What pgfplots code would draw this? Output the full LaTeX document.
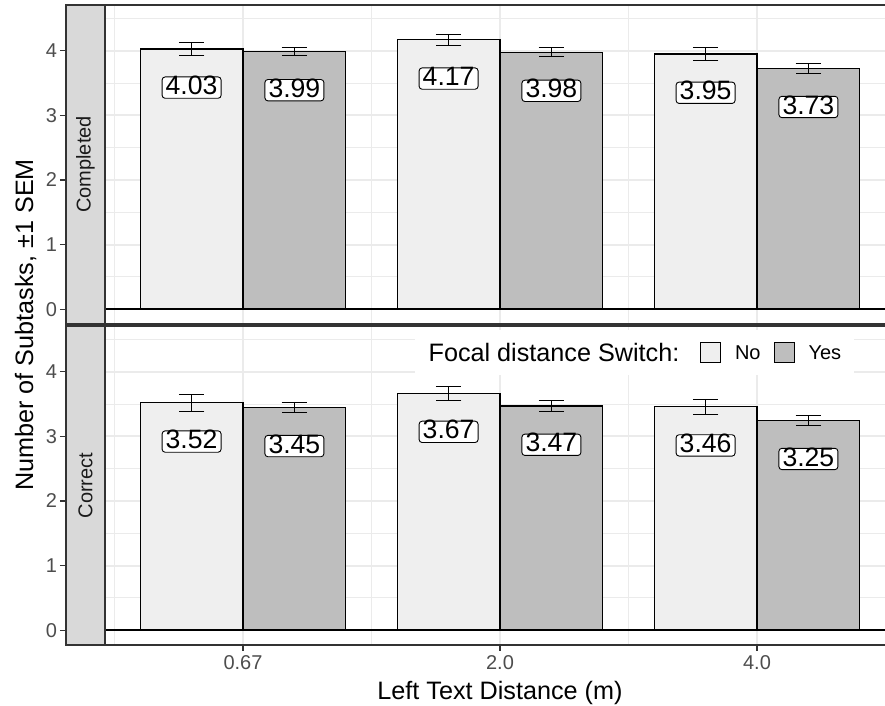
\documentclass[border=0pt]{standalone}
\usepackage{pgfplots}
\usepackage{pgfplotstable}
\pgfplotsset{compat=1.18}
\usepackage{fontspec}
\setmainfont{Liberation Sans}

\definecolor{noC}{HTML}{EFEFEF}
\definecolor{yesC}{HTML}{BEBEBE}
\definecolor{stripC}{HTML}{D9D9D9}
\definecolor{frameC}{HTML}{333333}
\definecolor{gridC}{HTML}{EBEBEB}
\definecolor{tickC}{HTML}{4D4D4D}
\definecolor{stripT}{HTML}{1A1A1A}

% x: category index (1 = 0.67 m, 2 = 2.0 m, 3 = 4.0 m) shifted by -0.2 (No) / +0.2 (Yes)
\pgfplotstableread{
x   y    e
0.8 4.03 0.100
1.8 4.17 0.090
2.8 3.95 0.100
}\compNo
\pgfplotstableread{
x   y    e
1.2 3.99 0.063
2.2 3.98 0.065
3.2 3.73 0.075
}\compYes
\pgfplotstableread{
x   y    e
0.8 3.52 0.130
1.8 3.67 0.110
2.8 3.46 0.115
}\corrNo
\pgfplotstableread{
x   y    e
1.2 3.45 0.077
2.2 3.47 0.090
3.2 3.25 0.078
}\corrYes

\newcommand{\smallf}{\fontsize{10bp}{12bp}\selectfont}
\newcommand{\titlef}{\fontsize{12.6bp}{15bp}\selectfont}

\pgfplotsset{
  /pgf/number format/assume math mode=true,
  panel/.style={
    scale only axis, width=414.5bp, height=159.5bp,
    xmin=0.3113, xmax=3.537, ymin=-0.23, ymax=4.71,
    xtick={1,2,3}, ytick={0,1,2,3,4},
    minor xtick={0.5,1.5,2.5,3.5}, minor ytick={0.5,1.5,2.5,3.5,4.5},
    grid=both,
    major grid style={gridC, line width=1bp},
    minor grid style={gridC, line width=0.5bp},
    tick pos=left, tick align=outside,
    major tick length=3bp, minor tick length=0pt,
    every tick/.style={frameC, line width=0.55bp},
    axis line style={frameC, line width=0.75bp},
    ticklabel style={font=\smallf, text=tickC},
    yticklabel style={inner xsep=1.3bp},
    xticklabel style={inner ysep=2bp},
  },
  bars/.style={
    ybar, bar width=0.4, bar shift=0pt, draw=black, line width=0.6bp, forget plot,
    nodes near coords={\pgfmathprintnumber[fixed,fixed zerofill,precision=2]{\pgfplotspointmeta}},
    nodes near coords style={anchor=center, yshift=-19.35bp, fill=white, draw=black,
      line width=0.45bp, rounded corners=1.5bp, font=\fontsize{13.3bp}{15bp}\selectfont,
      text=black, inner xsep=1.8bp, inner ysep=0.7bp, text height=0.82em, text depth=0.11em},
    error bars/y dir=both, error bars/y explicit,
    error bars/error mark=|,
    error bars/error bar style={black, line width=0.55bp},
    error bars/error mark options={black, line width=0.55bp, mark size=6.4bp},
  },
}

\begin{document}
\begin{tikzpicture}
\useasboundingbox (0,0) rectangle (442.5bp,353bp);
\clip (0,0) rectangle (442.5bp,353bp);

% ---------- top panel: Completed ----------
\begin{axis}[panel, at={(33bp,191bp)}, anchor=south west,
  xticklabels={}, xtick style={draw=none}]
  \addplot[bars, fill=noC] table[x=x, y=y, y error=e] {\compNo};
  \addplot[bars, fill=yesC] table[x=x, y=y, y error=e] {\compYes};
  \addplot[black, line width=1.1bp, forget plot] coordinates {(0.4631,0) (3.537,0)};
  \fill[stripC, draw=frameC, line width=0.75bp] (rel axis cs:0,0) rectangle (rel axis cs:0.04705,1);
  \node[rotate=90, text=stripT, font=\smallf] at (rel axis cs:0.0235,0.5) {Completed};
\end{axis}

% ---------- bottom panel: Correct ----------
\begin{axis}[panel, at={(33bp,30.5bp)}, anchor=south west,
  xticklabels={0.67,2.0,4.0},
  legend style={at={(axis cs:2.523,4.30)}, anchor=center, draw=none, fill=white,
    inner xsep=0bp, inner ysep=6bp, legend columns=-1,
    nodes={inner sep=0pt, text depth=0pt}, font=\smallf,
    /tikz/every odd column/.append style={column sep=7bp},
    /tikz/every even column/.append style={column sep=6.5bp}},
  legend cell align=left]
  \addlegendimage{empty legend}
  \addlegendentry{\titlef Focal distance Switch:\hspace*{3.85bp}}
  \addlegendimage{legend image code/.code={\draw[black, fill=noC, line width=0.5bp] (0bp,-5bp) rectangle (10bp,5bp);}}
  \addlegendentry{No}
  \addlegendimage{legend image code/.code={\draw[black, fill=yesC, line width=0.5bp] (0bp,-5bp) rectangle (10bp,5bp);}}
  \addlegendentry{Yes\hspace*{6.5bp}}
  \addplot[bars, fill=noC] table[x=x, y=y, y error=e] {\corrNo};
  \addplot[bars, fill=yesC] table[x=x, y=y, y error=e] {\corrYes};
  \addplot[black, line width=1.1bp, forget plot] coordinates {(0.4631,0) (3.537,0)};
  \fill[stripC, draw=frameC, line width=0.75bp] (rel axis cs:0,0) rectangle (rel axis cs:0.04705,1);
  \node[rotate=90, text=stripT, font=\smallf] at (rel axis cs:0.0235,0.5) {Correct};
\end{axis}

% axis titles
\node[rotate=90, anchor=base, font=\titlef] at (16.5bp,190.5bp) {Number of Subtasks, ±1 SEM};
\node[anchor=base, font=\titlef] at (250bp,3.5bp) {Left Text Distance (m)};
\end{tikzpicture}
\end{document}
